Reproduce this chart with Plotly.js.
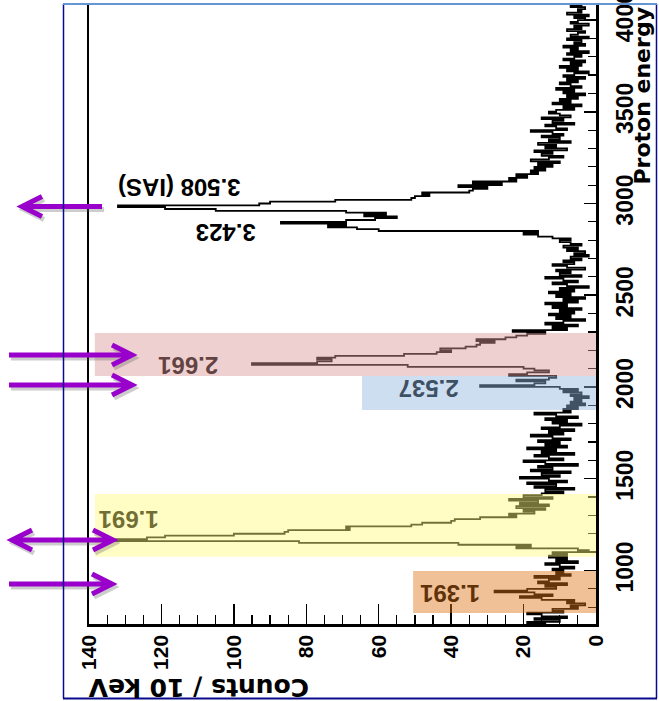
<!DOCTYPE html>
<html><head><meta charset="utf-8">
<script src="https://cdn.plot.ly/plotly-3.0.1.min.js"></script>
<style>html,body{margin:0;padding:0;background:#fff;} #chart{width:659px;height:701px;}</style>
</head><body><div id="chart"></div>
<script>
// ---------- data ----------
const binStartKeV = 700;   // lower edge of first bin
const binWidthKeV = 10;    // Counts / 10 keV
const counts = [
  14, 19, 10, 17, 8, 15, 19, 9, 12, 5,        // 700-790
  7, 3, 8, 6, 15, 21, 12, 17, 28, 19,         // 800-890
  11, 14, 8, 16, 13, 10, 17, 7, 11, 9,        // 900-990
  12, 6, 10, 14, 5, 11, 8, 13, 8, 12,         // 1000-1090
  2, 5, 22, 18, 38, 82, 133, 124, 119, 100,   // 1100-1190
  86, 85, 68, 69, 51, 48, 40, 39, 32, 22,     // 1200-1290
  24, 17, 20, 14, 22, 13, 21, 16, 24, 12,     // 1300-1390
  20, 15, 9, 14, 6, 17, 11, 19, 8, 13,        // 1400-1490
  21, 10, 15, 7, 18, 12, 16, 5, 14, 20,       // 1500-1590
  9, 13, 17, 6, 15, 11, 19, 8, 14, 10,        // 1600-1690
  16, 7, 12, 18, 9, 13, 6, 15, 10, 4,         // 1700-1790
  12, 8, 14, 5, 11, 17, 7, 9, 5, 8,           // 1800-1890
  3, 7, 4, 6, 2, 7, 4, 9, 5, 10,              // 1900-1990
  32, 17, 14, 22, 13, 11, 24, 19, 13, 17,     // 2000-2090
  20, 52, 95, 77, 73, 77, 72, 53, 44, 40,     // 2100-2190
  43, 36, 33, 32, 28, 33, 25, 22, 19, 14,     // 2200-2290
  23, 8, 12, 5, 14, 9, 3, 11, 7, 13,          // 2300-2390
  6, 10, 4, 12, 8, 14, 5, 9, 3, 11,           // 2400-2490
  7, 13, 6, 10, 2, 8, 12, 5, 9, 14,           // 2500-2590
  4, 10, 7, 11, 3, 8, 12, 6, 9, 4,            // 2600-2690
  7, 2, 6, 3, 8, 5, 9, 4, 7, 10,              // 2700-2790
  7, 12, 16, 20, 16, 60, 66, 74, 69, 87,      // 2800-2890
  69, 61, 55, 64, 58, 69, 105, 119, 132, 93,  // 2900-2990
  90, 72, 51, 50, 46, 48, 35, 34, 30, 38,     // 3000-3090
  26, 34, 22, 24, 19, 22, 16, 18, 14, 17,     // 3100-3190
  12, 16, 10, 18, 13, 9, 15, 12, 17, 8,       // 3200-3290
  14, 11, 16, 7, 13, 10, 15, 9, 12, 18,       // 3300-3390
  8, 11, 14, 6, 12, 9, 15, 7, 10, 13,         // 3400-3490
  11, 6, 9, 4, 12, 7, 10, 5, 8, 3,            // 3500-3590
  9, 6, 11, 4, 7, 10, 5, 8, 3, 9,             // 3600-3690
  6, 2, 8, 5, 10, 4, 7, 3, 9, 6,              // 3700-3790
  4, 8, 2, 7, 5, 9, 3, 6, 4, 8,               // 3800-3890
  2, 7, 5, 3, 8, 4, 6, 2, 7, 5,               // 3900-3990
  3, 6, 2, 8, 4, 5, 3, 7, 4                   // 4000-4080
];
const countTicks  = [0, 20, 40, 60, 80, 100, 120, 140];
const energyTicks = [1000, 1500, 2000, 2500, 3000, 3500, 4000];

// peak labels (excitation energy in MeV)
const peakLabels  = ['3.508 (IAS)', '3.423', '2.661', '2.537', '1.691', '1.391'];
const labelCounts = [115.2, 102.2, 112.5, 46.3, 129.0, 40.3];
const labelEnergy = [3084, 2839, 2120, 1995, 1281, 877];
const labelColors = ['#000', '#000', 'rgb(99,66,66)', 'rgb(62,80,100)', 'rgb(112,110,52)', 'rgb(96,50,10)'];

// highlighted energy bands
const bandLowE   = [2060, 1875, 1074, 768];
const bandHighE  = [2294, 2060, 1417, 997];
const bandCounts = [138.4, 64.6, 138.4, 50.5];
const bandColors = ['rgba(220,150,150,0.45)', 'rgba(144,182,222,0.45)', 'rgba(255,248,124,0.45)', 'rgba(222,115,22,0.45)'];

// purple arrows (energy they point at, direction, horizontal pixel extent)
const arrowE    = [2984, 2174, 2011, 1166, 926];
const arrowDir  = ['left', 'right', 'right', 'both', 'right'];
const arrowFrom = [102, 9, 9, 12, 9];
const arrowTo   = [22, 132, 132, 113, 112];

// ---------- build ----------
const W = 659, H = 701;
const M = {l: 89, r: 63, t: 5, b: 77};
const plotW = W - M.l - M.r, plotH = H - M.t - M.b;
const eRange = [708, 4082];
const keVperPx = (eRange[1] - eRange[0]) / plotH;
const xp = px => (px - M.l) / plotW;
const yp = py => (H - M.b - py) / plotH;

const ys = counts.map((c, i) => binStartKeV + i * binWidthKeV);
const xs = counts.slice();
xs.push(counts[counts.length - 1]);
ys.push(binStartKeV + counts.length * binWidthKeV);

const trace = {
  type: 'scatter', mode: 'lines', x: xs, y: ys,
  line: {color: '#000', width: 1.8, shape: 'vh'}, hoverinfo: 'skip'
};

const shapes = [];
bandLowE.forEach((lo, i) => {
  shapes.push({type: 'rect', xref: 'x', yref: 'y', x0: bandCounts[i], x1: 0, y0: lo, y1: bandHighE[i],
    fillcolor: bandColors[i], line: {width: 0}, layer: 'above'});
});

const purple = 'rgb(153,0,204)';
function arrowPath(e, from, to, dir, dx, dy) {
  const wing = 20, half = 10 * keVperPx;
  const E = e - dy * keVperPx;
  let p = `M ${xp(from + dx)},${E} L ${xp(to + dx)},${E}`;
  const sgn = to > from ? 1 : -1;
  p += ` M ${xp(to - sgn * wing + dx)},${E + half} L ${xp(to + dx)},${E} L ${xp(to - sgn * wing + dx)},${E - half}`;
  if (dir === 'both') {
    p += ` M ${xp(from + sgn * wing + dx)},${E + half} L ${xp(from + dx)},${E} L ${xp(from + sgn * wing + dx)},${E - half}`;
  }
  return p;
}
arrowE.forEach((e, i) => {
  shapes.push({type: 'path', xref: 'paper', yref: 'y', layer: 'above',
    path: arrowPath(e, arrowFrom[i], arrowTo[i], arrowDir[i], 2, 3),
    line: {color: 'rgba(90,90,90,0.3)', width: 5}});
  shapes.push({type: 'path', xref: 'paper', yref: 'y', layer: 'above',
    path: arrowPath(e, arrowFrom[i], arrowTo[i], arrowDir[i], 0, 0),
    line: {color: purple, width: 5}});
});

// slide frame
const navy = 'rgb(10,10,140)';
shapes.push({type: 'line', xref: 'paper', yref: 'paper', x0: xp(63.5), x1: xp(63.5), y0: yp(4), y1: yp(698.5), line: {color: navy, width: 1.5}, layer: 'above'});
shapes.push({type: 'line', xref: 'paper', yref: 'paper', x0: xp(656.5), x1: xp(656.5), y0: yp(4), y1: yp(698.5), line: {color: navy, width: 1.5}, layer: 'above'});
shapes.push({type: 'line', xref: 'paper', yref: 'paper', x0: xp(63), x1: xp(657), y0: yp(698.5), y1: yp(698.5), line: {color: navy, width: 2}, layer: 'above'});
shapes.push({type: 'line', xref: 'paper', yref: 'paper', x0: xp(63), x1: xp(657), y0: yp(4), y1: yp(4), line: {color: 'rgb(100,150,215)', width: 2}, layer: 'above'});

const annotations = peakLabels.map((t, i) => ({
  text: '<b>' + t + '</b>', x: labelCounts[i], y: labelEnergy[i], xref: 'x', yref: 'y',
  xanchor: 'center', yanchor: 'middle',
  showarrow: false, textangle: 180,
  font: {family: 'Liberation Sans, Arial, sans-serif', size: 24, color: labelColors[i]}
}));
annotations.push({text: '<b>Counts / 10 keV</b>', xref: 'paper', yref: 'paper', x: xp(198.5), y: yp(688),
  xanchor: 'center', yanchor: 'middle', showarrow: false, textangle: 180,
  font: {family: 'DejaVu Sans, sans-serif', size: 25, color: '#000'}});
annotations.push({text: '<b>Proton energy</b>', xref: 'paper', yref: 'paper', x: xp(642), y: yp(187),
  xanchor: 'center', yanchor: 'bottom', showarrow: false, textangle: -90,
  font: {family: 'DejaVu Sans, sans-serif', size: 22, color: '#000'}});

const tickFontX = {family: 'Liberation Sans, Arial, sans-serif', size: 21, color: '#000'};
const tickFontY = {family: 'Liberation Sans, Arial, sans-serif', size: 23, color: '#000'};

const layout = {
  width: W, height: H, margin: M, showlegend: false,
  paper_bgcolor: '#fff', plot_bgcolor: '#fff',
  xaxis: {range: [140, 0], autorange: false, tickmode: 'array', tickvals: countTicks,
    ticktext: countTicks.map(v => '<b>' + v + '</b>'),
    ticks: 'inside', ticklen: 20, tickwidth: 1.5, tickcolor: '#000',
    minor: {tickmode: 'linear', tick0: 0, dtick: 5, ticks: 'inside', ticklen: 9, tickwidth: 1.2, tickcolor: '#000'},
    showline: true, linewidth: 2.5, linecolor: '#000', mirror: false,
    showgrid: false, zeroline: false, tickangle: -90, tickfont: tickFontX, ticklabelstandoff: 0,
    ticklabeloverflow: 'allow'},
  yaxis: {range: eRange, autorange: false, side: 'right', tickmode: 'array', tickvals: energyTicks,
    ticktext: energyTicks.map(v => '<b>' + v + '</b>'),
    ticks: 'inside', ticklen: 12, tickwidth: 1.5, tickcolor: '#000',
    minor: {tickmode: 'linear', tick0: 0, dtick: 100, ticks: 'inside', ticklen: 8, tickwidth: 1.2, tickcolor: '#000'},
    showline: true, linewidth: 2.5, linecolor: '#000', mirror: true,
    showgrid: false, zeroline: false, tickangle: -90, tickfont: tickFontY, ticklabelstandoff: 7,
    ticklabeloverflow: 'allow'},
  shapes: shapes, annotations: annotations
};

Plotly.newPlot('chart', [trace], layout, {staticPlot: true, displayModeBar: false});
</script></body></html>
